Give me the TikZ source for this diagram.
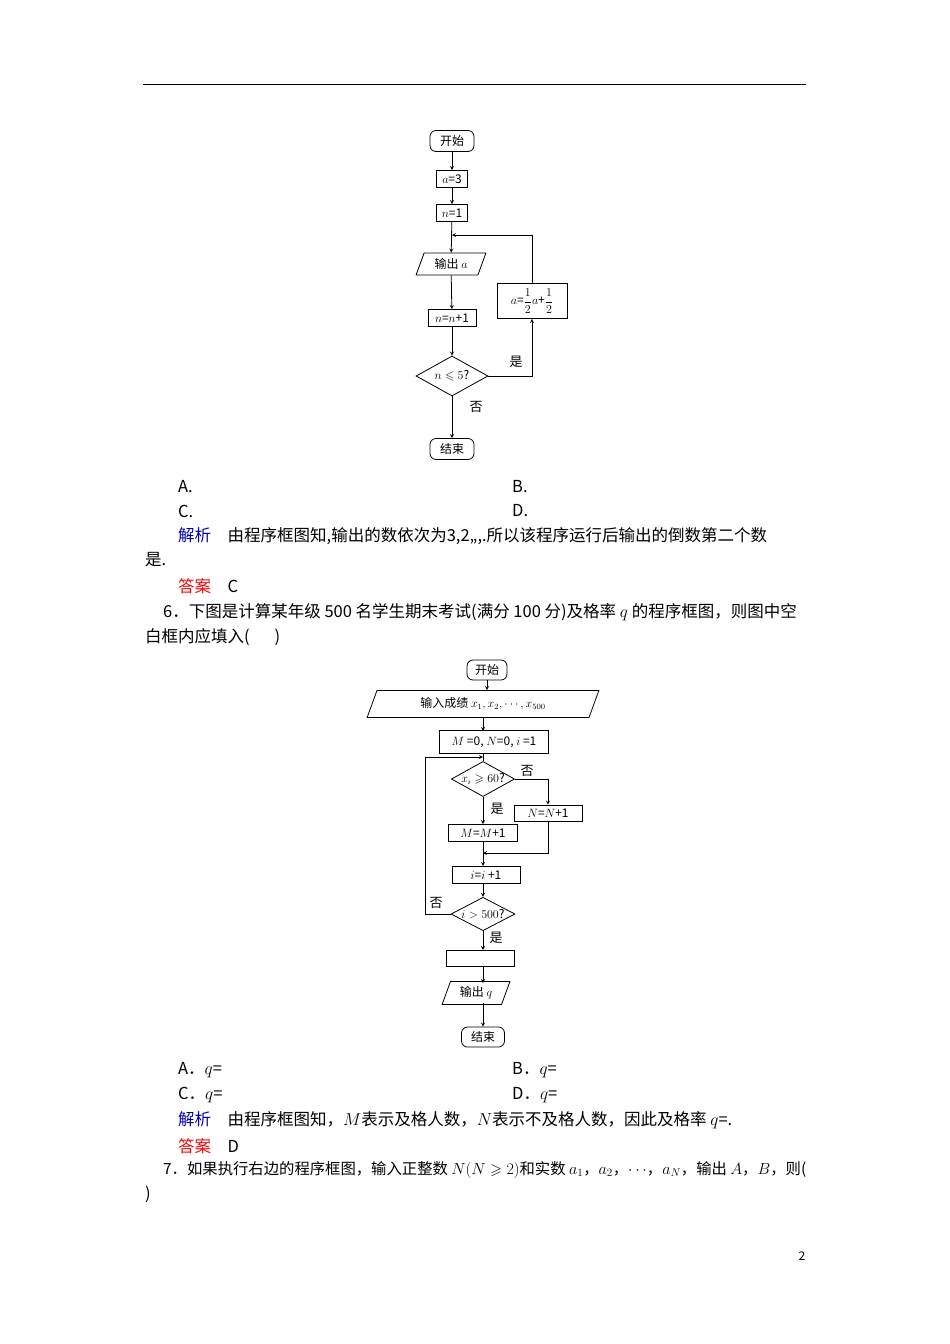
\documentclass[tikz,border=0pt]{standalone}
\usepackage{fontspec}
\usepackage{amssymb}
\usepackage{graphicx}
\setmainfont{Noto Sans CJK SC}
\usetikzlibrary{shapes.geometric}
\tikzset{
 box/.style={draw,thick,minimum height=17pt,inner sep=2pt,font=\fontsize{12}{13}\selectfont},
 term/.style={box,rounded corners=6pt,minimum height=21pt,minimum width=44pt},
 io/.style={box,trapezium,trapezium left angle=70,trapezium right angle=110,minimum height=22pt},
 dec/.style={box,diamond,aspect=1.8,inner sep=0pt},
 ar/.style={->,>=stealth,thick},
 ln/.style={thick},
 txt/.style={anchor=west,inner sep=0pt,font=\fontsize{16.5}{17}\selectfont},
 lab/.style={inner sep=0pt,font=\fontsize{13}{14}\selectfont}
}
\begin{document}
\begin{tikzpicture}[x=1pt,y=-1pt]
\useasboundingbox[fill=white] (0,0) rectangle (950,1344);
\draw[thick] (143,84) -- (806,84);
% flowchart 1
\node[term] (s1) at (452,141) {开始};
\node[box,minimum width=31pt] (a3) at (452,179) {$a$=3};
\node[box,minimum width=31pt] (n1) at (452,213) {$n$=1};
\coordinate (j1) at (452,235);
\node[io,minimum width=60pt] (o1) at (451,264) {输出 $a$};
\node[box,minimum width=48pt] (nn) at (452,318) {$n$=$n$+1};
\node[dec,minimum width=72pt,minimum height=40pt] (d1) at (452,376) {$n\leqslant5$?};
\node[term] (e1) at (452,449) {结束};
\node[box,minimum width=70pt,minimum height=35pt] (up) at (532,301) {$a$=$\displaystyle\frac12a$+$\displaystyle\frac12$};
\draw[ar] (s1) -- (a3);
\draw[ar] (a3) -- (n1);
\draw[ar] (n1) -- (o1);
\draw[ar] (o1) -- (nn);
\draw[ar] (nn) -- (d1);
\draw[ar] (d1) -- (e1);
\draw[ar] (d1.east) -| (up.south);
\draw[ar] (up.north) |- (j1);
\node[lab] at (516,362) {是};
\node[lab] at (476,407) {否};
% texts
\node[txt] at (178,487) {A.};
\node[txt] at (512,487) {B.};
\node[txt] at (178,511) {C.};
\node[txt] at (512,511) {D.};
\node[txt] at (178,536) {\textcolor{blue!70!black}{解析}\quad 由程序框图知,输出的数依次为3,2,,,.所以该程序运行后输出的倒数第二个数};
\node[txt] at (145,560) {是.};
\node[txt] at (178,586) {\textcolor{red}{答案}\quad C};
\node[txt] at (163,612) {6．下图是计算某年级 500 名学生期末考试(满分 100 分)及格率 $q$ 的程序框图，则图中空};
\node[txt] at (145,637) {白框内应填入(\hspace{1.5em})};
% flowchart 2
\node[term,minimum width=40pt,minimum height=20pt] (s2) at (487,670) {开始};
\node[io,minimum width=150pt,minimum height=27pt] (in) at (483,704) {输入成绩 $x_1,x_2,\cdots,x_{500}$};
\node[box,minimum width=109pt,minimum height=23pt] (init) at (494,742) {$M$ =0, $N$=0, $i$ =1};
\coordinate (j2) at (483,757);
\node[dec,minimum width=62pt,minimum height=32pt] (d2) at (483,779) {$x_i\geqslant60$?};
\node[box,minimum width=68pt,minimum height=16pt] (nb) at (548,813) {$N$=$N$+1};
\node[box,minimum width=69pt,minimum height=17pt] (mb) at (483,833) {$M$=$M$+1};
\coordinate (j3) at (483,853);
\node[box,minimum width=68pt,minimum height=17pt] (ib) at (486,875) {$i$=$i$ +1};
\node[dec,minimum width=64pt,minimum height=30pt] (d3) at (483,914) {$i>500$?};
\node[box,minimum width=68pt,minimum height=16pt] (emp) at (480,958) {};
\node[io,minimum width=68pt,minimum height=20pt] (oq) at (476,993) {输出 $q$};
\node[term,minimum width=43pt,minimum height=20pt] (e2) at (483,1037) {结束};
\draw[ar] (s2) -- (s2|-in.north);
\draw[ar] (483,718) -- (483,731);
\draw[ln] (483,754) -- (d2.north);
\draw[ar] (d2) -- (mb);
\draw[ar] (d2.east) -| (nb.north);
\draw[ln] (nb.south) |- (j3);
\draw[ln] (mb) -- (j3);
\draw[ar] (548,853) -- (j3);
\draw[ar] (j3) -- (483,866);
\draw[ar] (483,883) -- (d3.north);
\draw[ar] (d3.south) -- (483,950);
\draw[ar] (483,966) -- (483,983);
\draw[ar] (483,1003) -- (e2.north);
\draw[ar] (d3.west) -- (425,914) -- (425,757) -- (j2);
\node[lab] at (527,771) {否};
\node[lab] at (497,809) {是};
\node[lab] at (436,903) {否};
\node[lab] at (496,938) {是};
% texts 2
\node[txt] at (178,1070) {A．$q$=};
\node[txt] at (512,1070) {B．$q$=};
\node[txt] at (178,1095) {C．$q$=};
\node[txt] at (512,1095) {D．$q$=};
\node[txt] at (178,1120) {\textcolor{blue!70!black}{解析}\quad 由程序框图知，$M$表示及格人数，$N$表示不及格人数，因此及格率 $q$=.};
\node[txt] at (178,1146) {\textcolor{red}{答案}\quad D};
\node[txt] at (163,1170) {\resizebox{643pt}{!}{7．如果执行右边的程序框图，输入正整数 $N(N\geqslant2)$和实数 $a_1$，$a_2$，$\cdots$，$a_N$，输出 $A$，$B$，则(}};
\node[txt] at (145,1194) {)};
\node[inner sep=0pt,font=\fontsize{12}{13}\selectfont] (pg) at (802,1256) {2};
\end{tikzpicture}
\end{document}
